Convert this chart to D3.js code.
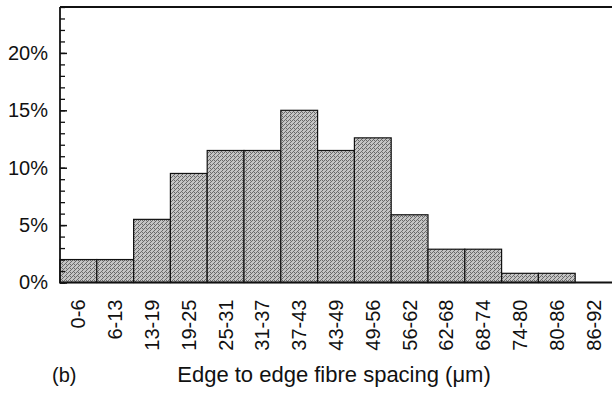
<!DOCTYPE html>
<html>
<head>
<meta charset="utf-8">
<script src="https://cdn.jsdelivr.net/npm/d3@7"></script>
<style>
  body { margin: 0; background: #fff; }
  svg { display: block; font-family: "Liberation Sans", Arial, sans-serif; }
</style>
</head>
<body>
<div id="app"></div>
<script>
// ----- Data -----
const bins = ["0-6", "6-13", "13-19", "19-25", "25-31", "31-37", "37-43", "43-49",
              "49-56", "56-62", "62-68", "68-74", "74-80", "80-86", "86-92"];
const percents = [2.0, 2.0, 5.5, 9.5, 11.5, 11.5, 15.0, 11.5, 12.6, 5.9, 2.9, 2.9, 0.8, 0.8, 0];
const yMajorTicks = [0, 5, 10, 15, 20];
const yMinorTicks = d3.range(0, 25, 1);
const xTitle = "Edge to edge fibre spacing (\u03bcm)";
const panelLabel = "(b)";

// ----- Layout -----
const W = 612, H = 394;
const plotLeft = 60, plotRight = 612, plotTop = 7, plotBottom = 282.5;

const svg = d3.select("#app").append("svg")
    .attr("width", W)
    .attr("height", H);

// stipple pattern for the bars
const defs = svg.append("defs");
const pat = defs.append("pattern")
    .attr("id", "stipple")
    .attr("patternUnits", "userSpaceOnUse")
    .attr("width", 4)
    .attr("height", 4);
pat.append("rect").attr("width", 4).attr("height", 4).attr("fill", "#c4c4c4");
[[0, 0], [2, 2], [1, 3], [3, 1], [2, 0]].forEach(([px, py]) => {
    pat.append("rect").attr("x", px).attr("y", py)
        .attr("width", 1).attr("height", 1).attr("fill", "#6a6a6a");
});

// Scales
const xScale = d3.scaleBand()
    .domain(bins)
    .range([plotLeft, plotRight])
    .padding(0);

const yScale = d3.scaleLinear()
    .domain([0, 24])
    .range([plotBottom, plotTop]);

// Bars
svg.selectAll("rect.bar")
    .data(bins.map((b, i) => ({ bin: b, value: percents[i] })).filter(d => d.value > 0))
    .enter()
    .append("rect")
        .attr("class", "bar")
        .attr("x", d => xScale(d.bin))
        .attr("y", d => yScale(d.value))
        .attr("width", xScale.bandwidth())
        .attr("height", d => yScale(0) - yScale(d.value))
        .attr("fill", "url(#stipple)")
        .attr("stroke", "#111")
        .attr("stroke-width", 1.2);

// Minor y ticks (every 1%), pointing inward
const minorAxis = d3.axisLeft(yScale)
    .tickValues(yMinorTicks)
    .tickSize(-5)
    .tickFormat("");
svg.append("g")
    .attr("transform", `translate(${plotLeft}, 0)`)
    .call(minorAxis)
    .call(g => g.select(".domain").remove())
    .call(g => g.selectAll(".tick line").attr("stroke", "#111").attr("stroke-width", 1.3));

// Major y ticks with labels
const majorAxis = d3.axisLeft(yScale)
    .tickValues(yMajorTicks)
    .tickSize(-7)
    .tickPadding(12)
    .tickFormat(d => d + "%");
svg.append("g")
    .attr("transform", `translate(${plotLeft}, 0)`)
    .call(majorAxis)
    .call(g => g.select(".domain").remove())
    .call(g => g.selectAll(".tick line").attr("stroke", "#111").attr("stroke-width", 1.5))
    .call(g => g.selectAll(".tick text")
        .attr("font-size", 20)
        .attr("font-family", "Liberation Sans, Arial, sans-serif")
        .attr("fill", "#111"));

// x axis labels (rotated)
const xAxis = d3.axisBottom(xScale).tickSize(0).tickPadding(0);
svg.append("g")
    .attr("transform", `translate(0, ${plotBottom})`)
    .call(xAxis)
    .call(g => g.select(".domain").remove())
    .call(g => g.selectAll(".tick text")
        .attr("font-size", 20)
        .attr("font-family", "Liberation Sans, Arial, sans-serif")
        .attr("fill", "#111")
        .attr("text-anchor", "end")
        .attr("transform", "rotate(-90)")
        .attr("x", -17)
        .attr("y", 0)
        .attr("dy", "0.35em"));

// Frame: left, top, bottom
svg.append("line")
    .attr("x1", plotLeft).attr("x2", plotLeft)
    .attr("y1", plotTop).attr("y2", plotBottom + 1)
    .attr("stroke", "#111").attr("stroke-width", 1.8);
svg.append("line")
    .attr("x1", plotLeft).attr("x2", plotRight)
    .attr("y1", plotTop).attr("y2", plotTop)
    .attr("stroke", "#111").attr("stroke-width", 1.8);
svg.append("line")
    .attr("x1", plotLeft).attr("x2", plotRight)
    .attr("y1", plotBottom).attr("y2", plotBottom)
    .attr("stroke", "#111").attr("stroke-width", 2);

// Titles
svg.append("text")
    .attr("x", 52)
    .attr("y", 382)
    .attr("font-size", 20)
    .attr("fill", "#111")
    .text(panelLabel);

svg.append("text")
    .attr("x", 334)
    .attr("y", 382)
    .attr("text-anchor", "middle")
    .attr("font-size", 22)
    .attr("fill", "#111")
    .text(xTitle);
</script>
</body>
</html>
